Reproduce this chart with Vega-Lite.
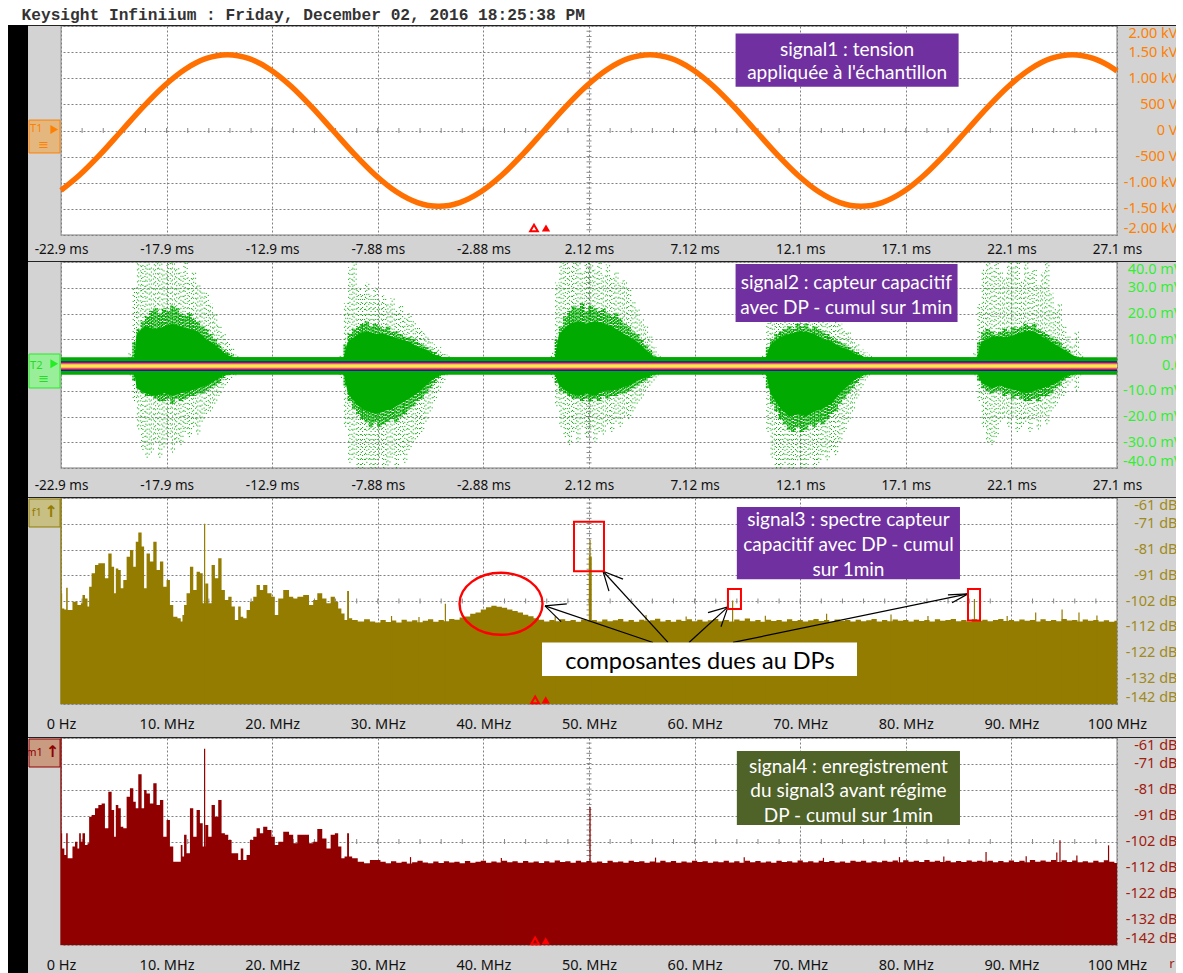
{"$schema":"https://vega.github.io/schema/vega-lite/v6.json","padding":{"left":-1,"top":-1,"right":0,"bottom":0},"background":"#d3d3d3","spacing":-2,
"config":{"view":{"fill":"#ffffff","stroke":"#a8a8a8","strokeWidth":1.5},"axis":{"grid":true,"gridColor":"#808080","gridDash":[2,2],"gridWidth":1,"domain":false,"ticks":false,"title":null,"labelFont":"Noto Sans","labelFontSize":13,"labelOverlap":false},"text":{"font":"Lato"}},
"datasets":{
"msT":[{"t":-21.88},{"t":-20.88},{"t":-19.88},{"t":-18.88},{"t":-17.88},{"t":-16.88},{"t":-15.88},{"t":-14.88},{"t":-13.88},{"t":-12.88},{"t":-11.88},{"t":-10.88},{"t":-9.88},{"t":-8.88},{"t":-7.88},{"t":-6.88},{"t":-5.88},{"t":-4.88},{"t":-3.88},{"t":-2.88},{"t":-1.88},{"t":-0.88},{"t":0.12},{"t":1.12},{"t":2.12},{"t":3.12},{"t":4.12},{"t":5.12},{"t":6.12},{"t":7.12},{"t":8.12},{"t":9.12},{"t":10.12},{"t":11.12},{"t":12.12},{"t":13.12},{"t":14.12},{"t":15.12},{"t":16.12},{"t":17.12},{"t":18.12},{"t":19.12},{"t":20.12},{"t":21.12},{"t":22.12},{"t":23.12},{"t":24.12},{"t":25.12},{"t":26.12}],
"mhzT":[{"t":2},{"t":4},{"t":6},{"t":8},{"t":10},{"t":12},{"t":14},{"t":16},{"t":18},{"t":20},{"t":22},{"t":24},{"t":26},{"t":28},{"t":30},{"t":32},{"t":34},{"t":36},{"t":38},{"t":40},{"t":42},{"t":44},{"t":46},{"t":48},{"t":50},{"t":52},{"t":54},{"t":56},{"t":58},{"t":60},{"t":62},{"t":64},{"t":66},{"t":68},{"t":70},{"t":72},{"t":74},{"t":76},{"t":78},{"t":80},{"t":82},{"t":84},{"t":86},{"t":88},{"t":90},{"t":92},{"t":94},{"t":96},{"t":98}],
"kvV":[{"v":1.9},{"v":1.8},{"v":1.7},{"v":1.6},{"v":1.5},{"v":1.4},{"v":1.3},{"v":1.2},{"v":1.1},{"v":1.0},{"v":0.9},{"v":0.8},{"v":0.7},{"v":0.6},{"v":0.5},{"v":0.4},{"v":0.3},{"v":0.2},{"v":0.1},{"v":-0.1},{"v":-0.2},{"v":-0.3},{"v":-0.4},{"v":-0.5},{"v":-0.6},{"v":-0.7},{"v":-0.8},{"v":-0.9},{"v":-1.0},{"v":-1.1},{"v":-1.2},{"v":-1.3},{"v":-1.4},{"v":-1.5},{"v":-1.6},{"v":-1.7},{"v":-1.8},{"v":-1.9}],
"mvV":[{"v":38},{"v":36},{"v":34},{"v":32},{"v":30},{"v":28},{"v":26},{"v":24},{"v":22},{"v":20},{"v":18},{"v":16},{"v":14},{"v":12},{"v":10},{"v":-10},{"v":-12},{"v":-14},{"v":-16},{"v":-18},{"v":-20},{"v":-22},{"v":-24},{"v":-26},{"v":-28},{"v":-30},{"v":-32},{"v":-34},{"v":-36},{"v":-38}],
"dbV":[{"v":-63},{"v":-65},{"v":-67},{"v":-69},{"v":-71},{"v":-73},{"v":-75},{"v":-77},{"v":-79},{"v":-81},{"v":-83},{"v":-85},{"v":-87},{"v":-89},{"v":-91},{"v":-93},{"v":-95},{"v":-97},{"v":-99},{"v":-101},{"v":-103},{"v":-105},{"v":-107}],
"wave":[{"t":-22.88,"v":-1.146},{"t":-22,"v":-0.852},{"t":-21,"v":-0.448},{"t":-20,"v":0},{"t":-19,"v":0.448},{"t":-18,"v":0.852},{"t":-17,"v":1.173},{"t":-16,"v":1.379},{"t":-15,"v":1.45},{"t":-14,"v":1.379},{"t":-13,"v":1.173},{"t":-12,"v":0.852},{"t":-11,"v":0.448},{"t":-10,"v":0},{"t":-9,"v":-0.448},{"t":-8,"v":-0.852},{"t":-7,"v":-1.173},{"t":-6,"v":-1.379},{"t":-5,"v":-1.45},{"t":-4,"v":-1.379},{"t":-3,"v":-1.173},{"t":-2,"v":-0.852},{"t":-1,"v":-0.448},{"t":0,"v":0},{"t":1,"v":0.448},{"t":2,"v":0.852},{"t":3,"v":1.173},{"t":4,"v":1.379},{"t":5,"v":1.45},{"t":6,"v":1.379},{"t":7,"v":1.173},{"t":8,"v":0.852},{"t":9,"v":0.448},{"t":10,"v":0},{"t":11,"v":-0.448},{"t":12,"v":-0.852},{"t":13,"v":-1.173},{"t":14,"v":-1.379},{"t":15,"v":-1.45},{"t":16,"v":-1.379},{"t":17,"v":-1.173},{"t":18,"v":-0.852},{"t":19,"v":-0.448},{"t":20,"v":0},{"t":21,"v":0.448},{"t":22,"v":0.852},{"t":23,"v":1.173},{"t":24,"v":1.379},{"t":25,"v":1.45},{"t":26,"v":1.379},{"t":27,"v":1.173},{"t":27.12,"v":1.14}],
"core":[{"t":-19.4,"u":3,"d":-3},{"t":-19.3,"u":12,"d":-9},{"t":-18.9,"u":15,"d":-11},{"t":-18.4,"u":14,"d":-12},{"t":-18,"u":15,"d":-11},{"t":-17.6,"u":16,"d":-12},{"t":-17.2,"u":15,"d":-11},{"t":-16.8,"u":14,"d":-10},{"t":-16.4,"u":13,"d":-9},{"t":-16,"u":10,"d":-8},{"t":-15.6,"u":8,"d":-6},{"t":-15.2,"u":5,"d":-4},{"t":-14.8,"u":3,"d":-3},
{"t":-9.5,"u":3,"d":-3},{"t":-9.3,"u":9,"d":-11},{"t":-8.8,"u":12,"d":-16},{"t":-8.4,"u":13,"d":-18},{"t":-8,"u":12,"d":-19},{"t":-7.6,"u":12,"d":-18},{"t":-7.2,"u":11,"d":-17},{"t":-6.8,"u":10,"d":-15},{"t":-6.4,"u":9,"d":-13},{"t":-6,"u":7,"d":-11},{"t":-5.6,"u":6,"d":-8},{"t":-5.2,"u":4,"d":-5},{"t":-4.8,"u":3,"d":-3},
{"t":0.5,"u":3,"d":-3},{"t":0.7,"u":12,"d":-8},{"t":1.2,"u":16,"d":-11},{"t":1.6,"u":17,"d":-12},{"t":2,"u":16,"d":-11},{"t":2.4,"u":17,"d":-12},{"t":2.8,"u":16,"d":-10},{"t":3.2,"u":15,"d":-10},{"t":3.6,"u":13,"d":-9},{"t":4,"u":11,"d":-8},{"t":4.4,"u":9,"d":-6},{"t":4.8,"u":6,"d":-5},{"t":5.2,"u":3,"d":-3},
{"t":10.5,"u":3,"d":-3},{"t":10.7,"u":8,"d":-11},{"t":11.2,"u":11,"d":-17},{"t":11.6,"u":12,"d":-20},{"t":12,"u":13,"d":-19},{"t":12.4,"u":13,"d":-20},{"t":12.8,"u":12,"d":-18},{"t":13.2,"u":10,"d":-17},{"t":13.6,"u":9,"d":-15},{"t":14,"u":7,"d":-11},{"t":14.4,"u":6,"d":-8},{"t":14.8,"u":4,"d":-5},{"t":15.2,"u":3,"d":-3},
{"t":20.5,"u":3,"d":-3},{"t":20.7,"u":9,"d":-7},{"t":21.2,"u":11,"d":-9},{"t":21.6,"u":11,"d":-8},{"t":22,"u":11,"d":-9},{"t":22.4,"u":12,"d":-10},{"t":22.8,"u":13,"d":-11},{"t":23.2,"u":13,"d":-10},{"t":23.6,"u":11,"d":-9},{"t":24,"u":9,"d":-8},{"t":24.4,"u":7,"d":-6},{"t":24.8,"u":5,"d":-4},{"t":25.2,"u":3,"d":-3}],
"bursts":[
{"t":-19.6,"up":3,"dn":-3,"hi":5,"lo":-4},{"t":-19.4,"up":9,"dn":-6,"hi":30,"lo":-14},{"t":-19.2,"up":14,"dn":-9,"hi":40,"lo":-25},{"t":-19,"up":17,"dn":-11,"hi":40,"lo":-33},{"t":-18.8,"up":19,"dn":-12,"hi":40,"lo":-36},{"t":-18.6,"up":21,"dn":-12,"hi":38,"lo":-34},{"t":-18.4,"up":22,"dn":-13,"hi":40,"lo":-30},{"t":-18.2,"up":20,"dn":-14,"hi":40,"lo":-36},{"t":-18,"up":22,"dn":-14,"hi":37,"lo":-32},{"t":-17.8,"up":21,"dn":-13,"hi":40,"lo":-28},{"t":-17.6,"up":23,"dn":-15,"hi":40,"lo":-34},{"t":-17.4,"up":22,"dn":-13,"hi":38,"lo":-30},{"t":-17.2,"up":20,"dn":-14,"hi":36,"lo":-31},{"t":-17,"up":19,"dn":-13,"hi":40,"lo":-26},{"t":-16.8,"up":20,"dn":-12,"hi":34,"lo":-28},{"t":-16.6,"up":18,"dn":-12,"hi":36,"lo":-24},{"t":-16.4,"up":17,"dn":-11,"hi":31,"lo":-27},{"t":-16.2,"up":15,"dn":-11,"hi":29,"lo":-22},{"t":-16,"up":14,"dn":-10,"hi":28,"lo":-19},{"t":-15.8,"up":12,"dn":-9,"hi":24,"lo":-18},{"t":-15.6,"up":10,"dn":-8,"hi":20,"lo":-15},{"t":-15.4,"up":8,"dn":-7,"hi":16,"lo":-12},{"t":-15.2,"up":6,"dn":-5,"hi":12,"lo":-9},{"t":-15,"up":5,"dn":-4,"hi":9,"lo":-7},{"t":-14.8,"up":4,"dn":-3,"hi":7,"lo":-5},{"t":-14.6,"up":3,"dn":-3,"hi":4,"lo":-4},
{"t":-9.6,"up":3,"dn":-3,"hi":4,"lo":-5},{"t":-9.4,"up":8,"dn":-8,"hi":24,"lo":-24},{"t":-9.2,"up":12,"dn":-14,"hi":38,"lo":-38},{"t":-9,"up":14,"dn":-17,"hi":40,"lo":-36},{"t":-8.8,"up":15,"dn":-19,"hi":30,"lo":-40},{"t":-8.6,"up":16,"dn":-21,"hi":28,"lo":-40},{"t":-8.4,"up":17,"dn":-22,"hi":32,"lo":-38},{"t":-8.2,"up":15,"dn":-24,"hi":27,"lo":-40},{"t":-8,"up":16,"dn":-22,"hi":30,"lo":-40},{"t":-7.8,"up":15,"dn":-24,"hi":25,"lo":-36},{"t":-7.6,"up":14,"dn":-23,"hi":27,"lo":-40},{"t":-7.4,"up":15,"dn":-22,"hi":24,"lo":-39},{"t":-7.2,"up":13,"dn":-21,"hi":26,"lo":-36},{"t":-7,"up":13,"dn":-22,"hi":21,"lo":-40},{"t":-6.8,"up":12,"dn":-20,"hi":23,"lo":-35},{"t":-6.6,"up":11,"dn":-19,"hi":19,"lo":-38},{"t":-6.4,"up":11,"dn":-17,"hi":20,"lo":-33},{"t":-6.2,"up":10,"dn":-16,"hi":17,"lo":-30},{"t":-6,"up":9,"dn":-14,"hi":15,"lo":-28},{"t":-5.8,"up":8,"dn":-13,"hi":14,"lo":-26},{"t":-5.6,"up":7,"dn":-11,"hi":12,"lo":-22},{"t":-5.4,"up":6,"dn":-9,"hi":10,"lo":-18},{"t":-5.2,"up":5,"dn":-7,"hi":8,"lo":-14},{"t":-5,"up":4,"dn":-5,"hi":7,"lo":-10},{"t":-4.8,"up":3,"dn":-4,"hi":5,"lo":-7},{"t":-4.6,"up":3,"dn":-3,"hi":4,"lo":-4},
{"t":0.4,"up":3,"dn":-3,"hi":5,"lo":-5},{"t":0.6,"up":10,"dn":-7,"hi":32,"lo":-16},{"t":0.8,"up":15,"dn":-10,"hi":40,"lo":-24},{"t":1,"up":19,"dn":-11,"hi":40,"lo":-28},{"t":1.2,"up":21,"dn":-12,"hi":38,"lo":-31},{"t":1.4,"up":23,"dn":-13,"hi":40,"lo":-26},{"t":1.6,"up":22,"dn":-13,"hi":40,"lo":-30},{"t":1.8,"up":24,"dn":-14,"hi":36,"lo":-24},{"t":2,"up":21,"dn":-13,"hi":40,"lo":-28},{"t":2.2,"up":23,"dn":-14,"hi":40,"lo":-25},{"t":2.4,"up":22,"dn":-13,"hi":37,"lo":-30},{"t":2.6,"up":21,"dn":-14,"hi":40,"lo":-26},{"t":2.8,"up":22,"dn":-12,"hi":35,"lo":-27},{"t":3,"up":20,"dn":-13,"hi":39,"lo":-23},{"t":3.2,"up":19,"dn":-12,"hi":34,"lo":-26},{"t":3.4,"up":20,"dn":-12,"hi":36,"lo":-22},{"t":3.6,"up":18,"dn":-11,"hi":32,"lo":-24},{"t":3.8,"up":16,"dn":-11,"hi":33,"lo":-20},{"t":4,"up":15,"dn":-10,"hi":30,"lo":-21},{"t":4.2,"up":13,"dn":-9,"hi":25,"lo":-18},{"t":4.4,"up":12,"dn":-8,"hi":22,"lo":-15},{"t":4.6,"up":10,"dn":-7,"hi":18,"lo":-13},{"t":4.8,"up":8,"dn":-6,"hi":15,"lo":-10},{"t":5,"up":6,"dn":-5,"hi":11,"lo":-8},{"t":5.2,"up":4,"dn":-4,"hi":7,"lo":-6},{"t":5.4,"up":3,"dn":-3,"hi":4,"lo":-4},
{"t":10.4,"up":3,"dn":-3,"hi":4,"lo":-5},{"t":10.6,"up":7,"dn":-9,"hi":18,"lo":-26},{"t":10.8,"up":10,"dn":-15,"hi":28,"lo":-36},{"t":11,"up":12,"dn":-18,"hi":26,"lo":-40},{"t":11.2,"up":13,"dn":-21,"hi":31,"lo":-40},{"t":11.4,"up":14,"dn":-23,"hi":25,"lo":-38},{"t":11.6,"up":15,"dn":-25,"hi":29,"lo":-40},{"t":11.8,"up":14,"dn":-26,"hi":26,"lo":-40},{"t":12,"up":16,"dn":-24,"hi":33,"lo":-37},{"t":12.2,"up":15,"dn":-26,"hi":28,"lo":-40},{"t":12.4,"up":16,"dn":-25,"hi":30,"lo":-40},{"t":12.6,"up":14,"dn":-23,"hi":25,"lo":-36},{"t":12.8,"up":15,"dn":-24,"hi":27,"lo":-40},{"t":13,"up":14,"dn":-22,"hi":24,"lo":-38},{"t":13.2,"up":13,"dn":-23,"hi":22,"lo":-35},{"t":13.4,"up":12,"dn":-21,"hi":23,"lo":-37},{"t":13.6,"up":11,"dn":-19,"hi":19,"lo":-33},{"t":13.8,"up":10,"dn":-18,"hi":20,"lo":-35},{"t":14,"up":9,"dn":-15,"hi":16,"lo":-30},{"t":14.2,"up":8,"dn":-13,"hi":14,"lo":-26},{"t":14.4,"up":7,"dn":-11,"hi":13,"lo":-22},{"t":14.6,"up":6,"dn":-9,"hi":10,"lo":-18},{"t":14.8,"up":5,"dn":-7,"hi":8,"lo":-13},{"t":15,"up":4,"dn":-5,"hi":6,"lo":-9},{"t":15.2,"up":3,"dn":-4,"hi":5,"lo":-6},{"t":15.4,"up":3,"dn":-3,"hi":4,"lo":-4},
{"t":20.4,"up":3,"dn":-3,"hi":5,"lo":-4},{"t":20.6,"up":9,"dn":-6,"hi":24,"lo":-14},{"t":20.8,"up":13,"dn":-9,"hi":37,"lo":-24},{"t":21,"up":14,"dn":-10,"hi":40,"lo":-30},{"t":21.2,"up":13,"dn":-11,"hi":38,"lo":-31},{"t":21.4,"up":12,"dn":-10,"hi":40,"lo":-28},{"t":21.6,"up":13,"dn":-10,"hi":36,"lo":-22},{"t":21.8,"up":14,"dn":-12,"hi":34,"lo":-20},{"t":22,"up":13,"dn":-11,"hi":40,"lo":-24},{"t":22.2,"up":15,"dn":-13,"hi":38,"lo":-20},{"t":22.4,"up":14,"dn":-12,"hi":40,"lo":-26},{"t":22.6,"up":15,"dn":-13,"hi":33,"lo":-24},{"t":22.8,"up":16,"dn":-14,"hi":40,"lo":-22},{"t":23,"up":15,"dn":-14,"hi":36,"lo":-26},{"t":23.2,"up":16,"dn":-13,"hi":38,"lo":-21},{"t":23.4,"up":14,"dn":-14,"hi":31,"lo":-25},{"t":23.6,"up":13,"dn":-12,"hi":36,"lo":-20},{"t":23.8,"up":12,"dn":-12,"hi":40,"lo":-23},{"t":24,"up":11,"dn":-11,"hi":28,"lo":-18},{"t":24.2,"up":10,"dn":-9,"hi":22,"lo":-16},{"t":24.4,"up":9,"dn":-8,"hi":24,"lo":-13},{"t":24.6,"up":7,"dn":-6,"hi":15,"lo":-12},{"t":24.8,"up":6,"dn":-5,"hi":11,"lo":-8},{"t":25,"up":4,"dn":-4,"hi":8,"lo":-6},{"t":25.2,"up":3.5,"dn":-3,"hi":13,"lo":-10},{"t":25.4,"up":3,"dn":-3,"hi":5,"lo":-4}],
"spec":[{"t":0,"a":-98.5,"b":-98.3},{"t":0.22,"a":-104.4,"b":-104.2},{"t":0.41,"a":-104.8,"b":-106.8},{"t":0.57,"a":-96.3,"b":-98.3},{"t":0.7,"a":-105,"b":-108.1},{"t":1,"a":-105,"b":-108.1},{"t":1.17,"a":-101.8,"b":-103.5},{"t":1.48,"a":-101.8,"b":-101.6},{"t":1.64,"a":-103.1,"b":-104.2},{"t":1.8,"a":-103.1,"b":-98.3},{"t":1.96,"a":-102.4,"b":-101.6},{"t":2.11,"a":-99.1,"b":-98.3},{"t":2.43,"a":-100.5,"b":-102.9},{"t":2.59,"a":-103.7,"b":-102.2},{"t":2.74,"a":-95.9,"b":-91.8},{"t":3.06,"a":-90.6,"b":-91.1},{"t":3.38,"a":-87.3,"b":-88.5},{"t":3.69,"a":-86.7,"b":-87.2},{"t":4,"a":-86.7,"b":-86.6},{"t":4.32,"a":-92.6,"b":-96.3},{"t":4.64,"a":-82.8,"b":-82},{"t":4.95,"a":-88,"b":-89.2},{"t":5.11,"a":-98.5,"b":-99.6},{"t":5.27,"a":-88.7,"b":-87.2},{"t":5.58,"a":-89.3,"b":-88.5},{"t":5.74,"a":-96.5,"b":-95.7},{"t":6.06,"a":-93.2,"b":-96.3},{"t":6.37,"a":-84.1,"b":-84},{"t":6.69,"a":-81.4,"b":-80.7},{"t":7,"a":-88,"b":-85.9},{"t":7.16,"a":-78.2,"b":-88.5},{"t":7.48,"a":-74.6,"b":-75.2},{"t":7.79,"a":-80.1,"b":-88.5},{"t":7.95,"a":-96.5,"b":-81.3},{"t":8.26,"a":-82.8,"b":-82.7},{"t":8.58,"a":-86,"b":-86.6},{"t":8.9,"a":-78.2,"b":-78.7},{"t":9.21,"a":-89.3,"b":-87.2},{"t":9.53,"a":-86,"b":-85.3},{"t":9.84,"a":-95.9,"b":-99.6},{"t":10.16,"a":-93.2,"b":-93.1},{"t":10.47,"a":-103.1,"b":-103.5},{"t":10.79,"a":-107.7,"b":-109.4},{"t":11.26,"a":-108.3,"b":-109.4},{"t":11.42,"a":-109.6,"b":-102.9},{"t":11.58,"a":-107,"b":-107.4},{"t":11.73,"a":-103.1,"b":-98.9},{"t":12.05,"a":-98.5,"b":-106.1},{"t":12.37,"a":-88,"b":-88.5},{"t":12.68,"a":-97.2,"b":-99.6},{"t":13,"a":-90,"b":-89.2},{"t":13.31,"a":-90.6,"b":-94.4},{"t":13.53,"a":-102.4,"b":-103.5},{"t":13.79,"a":-94.6,"b":-95},{"t":14.1,"a":-102.4,"b":-99.6},{"t":14.42,"a":-87.3,"b":-87.2},{"t":14.73,"a":-92.6,"b":-91.8},{"t":15.05,"a":-84.7,"b":-85.3},{"t":15.36,"a":-97.2,"b":-98.3},{"t":15.68,"a":-101.1,"b":-98.9},{"t":16,"a":-99.8,"b":-100.9},{"t":16.31,"a":-103.7,"b":-106.1},{"t":16.62,"a":-109,"b":-106.1},{"t":16.94,"a":-103.7,"b":-108.7},{"t":17.1,"a":-107.7,"b":-104.2},{"t":17.42,"a":-108.3,"b":-108.7},{"t":17.73,"a":-105,"b":-106.8},{"t":18.05,"a":-101.8,"b":-100.9},{"t":18.36,"a":-99.8,"b":-99.6},{"t":18.68,"a":-95.2,"b":-96.3},{"t":18.99,"a":-97.2,"b":-98.3},{"t":19.3,"a":-95.2,"b":-95.7},{"t":19.78,"a":-98.5,"b":-97},{"t":20.09,"a":-99.8,"b":-99.6},{"t":20.41,"a":-107,"b":-102.9},{"t":20.73,"a":-100.5,"b":-101.6},{"t":21.36,"a":-97.2,"b":-97.7},{"t":21.83,"a":-99.8,"b":-98.9},{"t":22.15,"a":-100.5,"b":-102.2},{"t":22.62,"a":-99.8,"b":-98.9},{"t":23.25,"a":-99.1,"b":-98.9},{"t":23.72,"a":-103.1,"b":-102.2},{"t":24.04,"a":-101.1,"b":-101.6},{"t":24.5,"a":-98.5,"b":-96.6},{"t":24.98,"a":-100.5,"b":-100.3},{"t":25.3,"a":-102.4,"b":-104.2},{"t":25.77,"a":-99.8,"b":-98.9},{"t":26.1,"a":-101.8,"b":-98.3},{"t":26.4,"a":-104.4,"b":-103.5},{"t":26.7,"a":-106.4,"b":-108.1},{"t":27,"a":-109,"b":-107.4},{"t":27.19,"a":-97.6,"b":-98.3},{"t":27.35,"a":-108.3,"b":-107.4},{"t":27.8,"a":-109,"b":-108.1},{"t":28.4,"a":-109.6,"b":-109.4},{"t":29,"a":-108.7,"b":-110},{"t":29.5,"a":-109.6,"b":-108.7},{"t":30,"a":-110,"b":-108.7},{"t":30.5,"a":-109,"b":-109.4},{"t":31,"a":-109.8,"b":-110},{"t":31.5,"a":-109.2,"b":-109.2},{"t":32,"a":-110,"b":-109.8},{"t":32.5,"a":-108.9,"b":-109.4},{"t":33,"a":-109.6,"b":-110.1},{"t":33.5,"a":-109.1,"b":-109.6},{"t":34,"a":-109.9,"b":-109},{"t":34.5,"a":-109.3,"b":-109.7},{"t":35,"a":-108.7,"b":-110},{"t":35.5,"a":-109.7,"b":-109.3},{"t":36,"a":-109,"b":-109.9},{"t":36.5,"a":-109.5,"b":-109.2},{"t":37,"a":-108.6,"b":-109.7},{"t":37.5,"a":-108.9,"b":-109.4},{"t":38,"a":-108,"b":-110},{"t":38.5,"a":-107.6,"b":-109.1},{"t":39,"a":-106.5,"b":-109.8},{"t":39.5,"a":-106,"b":-109.4},{"t":40,"a":-104.8,"b":-109},{"t":40.5,"a":-104,"b":-109.8},{"t":41,"a":-103.4,"b":-109.3},{"t":41.5,"a":-103.8,"b":-109.7},{"t":42,"a":-104.2,"b":-109},{"t":42.5,"a":-104.8,"b":-109.6},{"t":43,"a":-105.4,"b":-109.2},{"t":43.5,"a":-106,"b":-109.8},{"t":44,"a":-106.9,"b":-109.1},{"t":44.5,"a":-107.5,"b":-109.7},{"t":45,"a":-108.3,"b":-109.3},{"t":45.5,"a":-108.9,"b":-109.9},{"t":46,"a":-109.6,"b":-109.2},{"t":46.5,"a":-109,"b":-109.7},{"t":47,"a":-109.5,"b":-108.9},{"t":47.5,"a":-108.7,"b":-109.5},{"t":48,"a":-109.4,"b":-109.2},{"t":48.5,"a":-109,"b":-109.8},{"t":49,"a":-109.7,"b":-109},{"t":49.5,"a":-108.8,"b":-109.6},{"t":50,"a":-109.3,"b":-109.1},{"t":50.5,"a":-109,"b":-109.7},{"t":51,"a":-109.6,"b":-109.3},{"t":51.5,"a":-108.8,"b":-109.9},{"t":52,"a":-109.5,"b":-109},{"t":52.5,"a":-109.1,"b":-109.6},{"t":53,"a":-108.6,"b":-109.3},{"t":53.5,"a":-109.6,"b":-109.8},{"t":54,"a":-109,"b":-109},{"t":54.5,"a":-109.7,"b":-109.5},{"t":55,"a":-108.9,"b":-109.2},{"t":55.5,"a":-109.4,"b":-109.8},{"t":56,"a":-109.1,"b":-109.3},{"t":56.5,"a":-108.5,"b":-109.7},{"t":57,"a":-109.6,"b":-109},{"t":57.5,"a":-109,"b":-109.6},{"t":58,"a":-109.7,"b":-109.1},{"t":58.5,"a":-108.9,"b":-109.8},{"t":59,"a":-109.4,"b":-109.3},{"t":59.5,"a":-108.7,"b":-109.7},{"t":60,"a":-109.5,"b":-109},{"t":60.5,"a":-108.9,"b":-109.5},{"t":61,"a":-109.6,"b":-109.2},{"t":61.5,"a":-109.1,"b":-109.8},{"t":62,"a":-108.6,"b":-109.3},{"t":62.5,"a":-109.5,"b":-109.6},{"t":63,"a":-109,"b":-109},{"t":63.5,"a":-109.6,"b":-109.7},{"t":64,"a":-108.8,"b":-109.2},{"t":64.5,"a":-109.3,"b":-109.8},{"t":65,"a":-108.4,"b":-109},{"t":65.5,"a":-109.5,"b":-109.6},{"t":66,"a":-109,"b":-109.1},{"t":66.5,"a":-109.7,"b":-109.7},{"t":67,"a":-108.9,"b":-109.3},{"t":67.5,"a":-109.4,"b":-109.8},{"t":68,"a":-109,"b":-109},{"t":68.5,"a":-109.6,"b":-109.5},{"t":69,"a":-108.7,"b":-109.2},{"t":69.5,"a":-109.4,"b":-109.7},{"t":70,"a":-109,"b":-108.9},{"t":70.5,"a":-109.6,"b":-109.6},{"t":71,"a":-109.1,"b":-109.2},{"t":71.5,"a":-108.6,"b":-109.7},{"t":72,"a":-109.4,"b":-109},{"t":72.5,"a":-109,"b":-109.5},{"t":73,"a":-109.7,"b":-109.1},{"t":73.5,"a":-108.8,"b":-109.7},{"t":74,"a":-109.3,"b":-109.3},{"t":74.5,"a":-109,"b":-109.8},{"t":75,"a":-109.6,"b":-109},{"t":75.5,"a":-108.9,"b":-109.4},{"t":76,"a":-109.5,"b":-109},{"t":76.5,"a":-109.1,"b":-109.7},{"t":77,"a":-108.6,"b":-109.2},{"t":77.5,"a":-109.6,"b":-109.6},{"t":78,"a":-109,"b":-109},{"t":78.5,"a":-109.5,"b":-109.4},{"t":79,"a":-108.8,"b":-108.9},{"t":79.5,"a":-109.3,"b":-109.6},{"t":80,"a":-109,"b":-108.8},{"t":80.5,"a":-109.6,"b":-109.4},{"t":81,"a":-108.9,"b":-109},{"t":81.5,"a":-109.4,"b":-109.5},{"t":82,"a":-109,"b":-108.7},{"t":82.5,"a":-109.6,"b":-109.4},{"t":83,"a":-108.7,"b":-109},{"t":83.5,"a":-109.3,"b":-109.5},{"t":84,"a":-109,"b":-109},{"t":84.5,"a":-108.6,"b":-109.6},{"t":85,"a":-109.5,"b":-109.1},{"t":85.5,"a":-109,"b":-109.5},{"t":86,"a":-109.6,"b":-108.9},{"t":86.5,"a":-108.7,"b":-109.4},{"t":87,"a":-109.3,"b":-109},{"t":87.5,"a":-108.9,"b":-109.4},{"t":88,"a":-109.5,"b":-109},{"t":88.5,"a":-109,"b":-109.6},{"t":89,"a":-108.6,"b":-109.1},{"t":89.5,"a":-109.4,"b":-109.6},{"t":90,"a":-109,"b":-108.9},{"t":90.5,"a":-109.5,"b":-109.5},{"t":91,"a":-108.8,"b":-109},{"t":91.5,"a":-109.3,"b":-109.6},{"t":92,"a":-109,"b":-108.7},{"t":92.5,"a":-109.6,"b":-109.4},{"t":93,"a":-108.7,"b":-108.9},{"t":93.5,"a":-109.4,"b":-109.4},{"t":94,"a":-109,"b":-108.7},{"t":94.5,"a":-109.5,"b":-109.5},{"t":95,"a":-108.6,"b":-108.8},{"t":95.5,"a":-109.2,"b":-109.5},{"t":96,"a":-109,"b":-108.9},{"t":96.5,"a":-109.6,"b":-109.6},{"t":97,"a":-108.8,"b":-109.2},{"t":97.5,"a":-109.3,"b":-109.7},{"t":98,"a":-109,"b":-109},{"t":98.5,"a":-109.6,"b":-109.6},{"t":99,"a":-109.1,"b":-108.8},{"t":99.5,"a":-109.7,"b":-109.4},{"t":100,"a":-109.3,"b":-109.9}],
"spk3":[{"t":0,"v":-61},{"t":13.6,"v":-71.1},{"t":31.3,"v":-107.4},{"t":33.9,"v":-107.8},{"t":36.4,"v":-102.6},{"t":46.8,"v":-107.5},{"t":50.1,"v":-77.4},{"t":55.4,"v":-107},{"t":59.2,"v":-107.6},{"t":63.6,"v":-101.3},{"t":66.7,"v":-107.3},{"t":72.5,"v":-106.5},{"t":78.6,"v":-106.8},{"t":82.1,"v":-107.4},{"t":86.5,"v":-100.7},{"t":89.6,"v":-107.4},{"t":92.3,"v":-106},{"t":94.8,"v":-104.8},{"t":96.4,"v":-106},{"t":98.1,"v":-107.2}],
"spk4":[{"t":0,"v":-61},{"t":13.6,"v":-65.2},{"t":33.1,"v":-107.6},{"t":41.7,"v":-108},{"t":50.1,"v":-88},{"t":56.3,"v":-107.8},{"t":64.7,"v":-107.7},{"t":72.2,"v":-107.9},{"t":79.4,"v":-107.6},{"t":83.6,"v":-107.4},{"t":87.6,"v":-105.6},{"t":91.4,"v":-107.3},{"t":94.6,"v":-101},{"t":94.3,"v":-105.8},{"t":96.2,"v":-107},{"t":99.2,"v":-103}],
"txt1":[{"t":14.34,"v":1.548,"label":"signal1 : tension"},{"t":14.34,"v":1.106,"label":"appliquée à l'échantillon"}],
"txt2":[{"t":14.3,"v":31.8,"label":"signal2 : capteur capacitif"},{"t":14.3,"v":22.1,"label":"avec DP - cumul sur 1min"}],
"txt3":[{"t":74.57,"v":-69.6,"label":"signal3 : spectre capteur"},{"t":74.57,"v":-79.5,"label":"capacitif avec DP - cumul"},{"t":74.57,"v":-89.2,"label":"sur 1min"}],
"txt4":[{"t":74.57,"v":-72.3,"label":"signal4 : enregistrement"},{"t":74.57,"v":-81.7,"label":"du signal3 avant régime"},{"t":74.57,"v":-91.5,"label":"DP - cumul sur 1min"}],
"redbox":[{"t":48.58,"t2":51.42,"v":-70.3,"v2":-89.8},{"t":63.16,"t2":64.39,"v":-96.8,"v2":-104.6},{"t":85.89,"t2":87.03,"v":-96.8,"v2":-109.2}],
"arrows":[{"t":56.06,"t2":45.83,"v":-117.8,"v2":-103.4},{"t":45.83,"t2":47.9,"v":-103.4,"v2":-102.6},{"t":45.83,"t2":47.35,"v":-103.4,"v2":-109.6},{"t":57.48,"t2":51.33,"v":-117.8,"v2":-89.8},{"t":51.33,"t2":53.22,"v":-89.8,"v2":-92.9},{"t":51.33,"t2":51.89,"v":-89.8,"v2":-97.6},{"t":59.47,"t2":63.16,"v":-117.8,"v2":-103.8},{"t":63.16,"t2":61.27,"v":-103.8,"v2":-106.1},{"t":63.16,"t2":62.5,"v":-103.8,"v2":-111.6},{"t":63.64,"t2":85.89,"v":-117.8,"v2":-98.7},{"t":85.89,"t2":83.99,"v":-98.7,"v2":-99.1},{"t":85.89,"t2":84.38,"v":-98.7,"v2":-102.2}]
},
"vconcat":[
{"width":1056,"height":209,"data":{"values":[{"k":1}]},
"layer":[
{"data":{"name":"msT"},"mark":{"type":"tick","orient":"vertical","size":5,"color":"#888888","thickness":1,"opacity":1},"encoding":{"x":{"field":"t","type":"quantitative","scale":{"domain":[-22.88,27.12],"nice":false,"zero":false},"axis":{"values":[-22.88,-17.88,-12.88,-7.88,-2.88,2.12,7.12,12.12,17.12,22.12,27.12],"labelFlush":false,"labelOverlap":false,"labelPadding":7,"labelFontSize":13.5,"labelExpr":"(datum.value<0?'-':'')+format(abs(datum.value),'.3r')+' ms'","labelColor":"#111111"}},"y":{"datum":0,"type":"quantitative","scale":{"domain":[-2,2],"nice":false,"zero":false},"axis":{"orient":"right","labelAlign":"right","labelFlush":true,"labelOverlap":false,"labelFontSize":14.5,"tickCount":9,"values":[-2,-1.5,-1,-0.5,0,0.5,1,1.5,2],"labelColor":"#ff8000","labelPadding":60,"labelExpr":"datum.value==0?'0 V':(datum.value<0?'-':'')+(abs(datum.value)<1?format(abs(datum.value)*1000,'d')+' V':format(abs(datum.value),'.2f')+' kV')"}}}},
{"data":{"name":"kvV"},"mark":{"type":"tick","orient":"horizontal","size":5,"color":"#888888","thickness":1,"opacity":1},"encoding":{"x":{"datum":2.12},"y":{"field":"v","type":"quantitative"}}},
{"data":{"name":"wave"},"mark":{"type":"line","color":"#ff7000","strokeWidth":5.5,"interpolate":"monotone"},"encoding":{"x":{"field":"t","type":"quantitative"},"y":{"field":"v","type":"quantitative"}}},
{"mark":{"type":"rect","color":"#7030a0"},"encoding":{"x":{"datum":9.06},"x2":{"datum":19.62},"y":{"datum":1.856},"y2":{"datum":0.837}}},
{"data":{"name":"txt1"},"mark":{"type":"text","color":"#ffffff","fontSize":19,"align":"center"},"encoding":{"x":{"field":"t","type":"quantitative"},"y":{"field":"v","type":"quantitative"},"text":{"field":"label"}}},
{"mark":{"type":"point","shape":"triangle-up","filled":false,"color":"#ff0000","size":60,"opacity":1},"encoding":{"x":{"datum":-0.484},"y":{"datum":-1.866}}},
{"mark":{"type":"point","shape":"triangle-up","filled":true,"color":"#ff0000","size":70,"opacity":1},"encoding":{"x":{"datum":0.084},"y":{"datum":-1.866}}},
{"mark":{"type":"rect","color":"#e4b77e","stroke":"#ff8000"},"encoding":{"x":{"datum":-24.395},"x2":{"datum":-22.927},"y":{"datum":0.2},"y2":{"datum":-0.43}}},
{"mark":{"type":"text","text":"T1","color":"#ff8000","fontSize":11,"font":"Noto Sans"},"encoding":{"x":{"datum":-24.05},"y":{"datum":0.03}}},
{"mark":{"type":"point","shape":"triangle-right","filled":true,"color":"#ff8000","size":80,"opacity":1},"encoding":{"x":{"datum":-23.2},"y":{"datum":0.02}}},
{"mark":{"type":"text","text":"≡","color":"#ff8000","fontSize":13,"font":"DejaVu Sans"},"encoding":{"x":{"datum":-23.7},"y":{"datum":-0.27}}},
{"mark":{"type":"rect","color":"#ffffff"},"encoding":{"x":{"datum":-25.768},"x2":{"datum":30.245},"y":{"datum":2.498},"y2":{"datum":2.019}}},
{"mark":{"type":"rect","color":"#ffffff"},"encoding":{"x":{"datum":-25.768},"x2":{"datum":-25.389},"y":{"datum":2.019},"y2":{"datum":-2.498}}},
{"mark":{"type":"rect","color":"#000000"},"encoding":{"x":{"datum":-25.389},"x2":{"datum":-24.442},"y":{"datum":2.019},"y2":{"datum":-2.498}}},
{"mark":{"type":"rect","color":"#ffffff"},"encoding":{"x":{"datum":29.914},"x2":{"datum":30.245},"y":{"datum":2.019},"y2":{"datum":-2.498}}},
{"mark":{"type":"rect","color":"#222222"},"encoding":{"x":{"datum":-24.442},"x2":{"datum":29.914},"y":{"datum":2.019},"y2":{"datum":2.0}}},
{"mark":{"type":"text","text":"Keysight Infiniium : Friday, December 02, 2016 18:25:38 PM","align":"left","font":"Liberation Mono","fontSize":16.2,"fontWeight":"bold","color":"#333333"},"encoding":{"x":{"datum":-24.75},"y":{"datum":2.21}}}
]},
{"width":1056,"height":206,"data":{"values":[{"k":1}]},
"layer":[
{"data":{"name":"msT"},"mark":{"type":"tick","orient":"vertical","size":5,"color":"#888888","thickness":1,"opacity":1},"encoding":{"x":{"field":"t","type":"quantitative","scale":{"domain":[-22.88,27.12],"nice":false,"zero":false},"axis":{"values":[-22.88,-17.88,-12.88,-7.88,-2.88,2.12,7.12,12.12,17.12,22.12,27.12],"labelFlush":false,"labelOverlap":false,"labelPadding":10,"labelFontSize":13.5,"labelExpr":"(datum.value<0?'-':'')+format(abs(datum.value),'.3r')+' ms'","labelColor":"#111111"}},"y":{"datum":0,"type":"quantitative","scale":{"domain":[-40,40],"nice":false,"zero":false},"axis":{"orient":"right","labelAlign":"right","labelFlush":true,"labelOverlap":false,"labelFontSize":14.5,"tickCount":9,"values":[-40,-30,-20,-10,0,10,20,30,40],"labelColor":"#33ee33","labelPadding":65,"labelExpr":"datum.value==0?'0.0\u00a0\u00a0\u00a0':(datum.value<0?'-':'')+format(abs(datum.value),'.1f')+' mV'"}}}},
{"data":{"name":"mvV"},"mark":{"type":"tick","orient":"horizontal","size":5,"color":"#888888","thickness":1,"opacity":1},"encoding":{"x":{"datum":2.12},"y":{"field":"v","type":"quantitative"}}},
{"data":{"name":"bursts"},"mark":{"type":"rule","color":"#00aa00","strokeWidth":1,"strokeDash":[1,3]},"encoding":{"x":{"field":"t","type":"quantitative"},"y":{"field":"lo","type":"quantitative"},"y2":{"field":"hi"}}},
{"data":{"name":"bursts"},"mark":{"type":"rule","color":"#00aa00","strokeWidth":1,"strokeDash":[1,4],"strokeDashOffset":2,"xOffset":2},"encoding":{"x":{"field":"t","type":"quantitative"},"y":{"field":"lo","type":"quantitative"},"y2":{"field":"hi"}}},
{"data":{"name":"bursts"},"mark":{"type":"rule","color":"#00aa00","strokeWidth":1,"strokeDash":[1,5],"strokeDashOffset":3,"xOffset":-1.3},"encoding":{"x":{"field":"t","type":"quantitative"},"y":{"field":"lo","type":"quantitative"},"y2":{"field":"hi"}}},
{"data":{"name":"bursts"},"mark":{"type":"rule","color":"#00aa00","strokeWidth":1.5,"strokeDash":[3,1]},"encoding":{"x":{"field":"t","type":"quantitative"},"y":{"field":"dn","type":"quantitative"},"y2":{"field":"up"}}},
{"data":{"name":"bursts"},"mark":{"type":"rule","color":"#00aa00","strokeWidth":1.5,"strokeDash":[2,1],"strokeDashOffset":1,"xOffset":1.5},"encoding":{"x":{"field":"t","type":"quantitative"},"y":{"field":"dn","type":"quantitative"},"y2":{"field":"up"}}},
{"data":{"name":"bursts"},"mark":{"type":"rule","color":"#00aa00","strokeWidth":1.5,"strokeDash":[2,1],"xOffset":-1.5},"encoding":{"x":{"field":"t","type":"quantitative"},"y":{"field":"dn","type":"quantitative"},"y2":{"field":"up"}}},
{"data":{"name":"core"},"mark":{"type":"area","color":"#00aa00","interpolate":"linear"},"encoding":{"x":{"field":"t","type":"quantitative"},"y":{"field":"u","type":"quantitative"},"y2":{"field":"d"}}},
{"mark":{"type":"rect","color":"#00aa00"},"encoding":{"x":{"datum":-22.88},"x2":{"datum":27.12},"y":{"datum":3},"y2":{"datum":-3.8}}},
{"mark":{"type":"rect","color":"#1a1a9a"},"encoding":{"x":{"datum":-22.88},"x2":{"datum":27.12},"y":{"datum":1.5},"y2":{"datum":-2.3}}},
{"mark":{"type":"rect","color":"#d0208a"},"encoding":{"x":{"datum":-22.88},"x2":{"datum":27.12},"y":{"datum":1},"y2":{"datum":-1.8}}},
{"mark":{"type":"rect","color":"#ff9020"},"encoding":{"x":{"datum":-22.88},"x2":{"datum":27.12},"y":{"datum":0.55},"y2":{"datum":-1.35}}},
{"mark":{"type":"rect","color":"#ffe860"},"encoding":{"x":{"datum":-22.88},"x2":{"datum":27.12},"y":{"datum":0.2},"y2":{"datum":-1}}},
{"mark":{"type":"rect","color":"#7030a0"},"encoding":{"x":{"datum":9.06},"x2":{"datum":19.57},"y":{"datum":39.2},"y2":{"datum":16.7}}},
{"data":{"name":"txt2"},"mark":{"type":"text","color":"#ffffff","fontSize":19,"align":"center"},"encoding":{"x":{"field":"t","type":"quantitative"},"y":{"field":"v","type":"quantitative"},"text":{"field":"label"}}},
{"mark":{"type":"rect","color":"#99ee99","stroke":"#22ee22"},"encoding":{"x":{"datum":-24.395},"x2":{"datum":-22.927},"y":{"datum":4.27},"y2":{"datum":-8.93}}},
{"mark":{"type":"text","text":"T2","color":"#22dd22","fontSize":11,"font":"Noto Sans"},"encoding":{"x":{"datum":-24.05},"y":{"datum":-0.5}}},
{"mark":{"type":"point","shape":"triangle-right","filled":true,"color":"#22ee22","size":80,"opacity":1},"encoding":{"x":{"datum":-23.2},"y":{"datum":0.5}}},
{"mark":{"type":"text","text":"≡","color":"#22dd22","fontSize":13,"font":"DejaVu Sans"},"encoding":{"x":{"datum":-23.7},"y":{"datum":-5.4}}},
{"mark":{"type":"rect","color":"#ffffff"},"encoding":{"x":{"datum":-25.768},"x2":{"datum":-25.389},"y":{"datum":40.388},"y2":{"datum":-51.26}}},
{"mark":{"type":"rect","color":"#000000"},"encoding":{"x":{"datum":-25.389},"x2":{"datum":-24.442},"y":{"datum":40.388},"y2":{"datum":-51.26}}},
{"mark":{"type":"rect","color":"#ffffff"},"encoding":{"x":{"datum":29.914},"x2":{"datum":30.245},"y":{"datum":40.388},"y2":{"datum":-51.26}}},
{"mark":{"type":"rect","color":"#222222"},"encoding":{"x":{"datum":-24.442},"x2":{"datum":29.914},"y":{"datum":40.388},"y2":{"datum":40}}}
]},
{"width":1056,"height":206,"data":{"values":[{"k":1}]},
"layer":[
{"data":{"name":"mhzT"},"mark":{"type":"tick","orient":"vertical","size":5,"color":"#888888","thickness":1,"opacity":1},"encoding":{"x":{"field":"t","type":"quantitative","scale":{"domain":[0,100],"nice":false,"zero":false},"axis":{"values":[0,10,20,30,40,50,60,70,80,90,100],"labelFlush":false,"labelOverlap":false,"labelPadding":13,"labelFontSize":14.5,"labelExpr":"datum.value==0?'0 Hz':datum.value==100?'100 MHz':datum.value+'. MHz'","labelColor":"#111111"}},"y":{"datum":-101.5,"type":"quantitative","scale":{"domain":[-142,-61],"nice":false,"zero":false},"axis":{"orient":"right","labelAlign":"right","labelFlush":true,"labelOverlap":false,"labelFontSize":14.5,"tickCount":9,"values":[-142,-131.875,-121.75,-111.625,-101.5,-91.375,-81.25,-71.125,-61],"labelColor":"#a08a20","labelPadding":60,"labelExpr":"'-'+format(abs(datum.value),'.0f')+' dB'"}}}},
{"data":{"name":"dbV"},"mark":{"type":"tick","orient":"horizontal","size":5,"color":"#888888","thickness":1,"opacity":1},"encoding":{"x":{"datum":50},"y":{"field":"v","type":"quantitative"}}},
{"data":{"name":"spec"},"mark":{"type":"area","color":"#937c00","interpolate":"step"},"encoding":{"x":{"field":"t","type":"quantitative"},"y":{"field":"a","type":"quantitative"},"y2":{"datum":-142}}},
{"data":{"name":"spk3"},"mark":{"type":"rule","color":"#937c00","strokeWidth":1.2},"encoding":{"x":{"field":"t","type":"quantitative"},"y":{"field":"v","type":"quantitative"},"y2":{"datum":-142}}},
{"mark":{"type":"rect","color":"#937c00"},"encoding":{"x":{"datum":49.98},"x2":{"datum":50.26},"y":{"datum":-84},"y2":{"datum":-142}}},
{"mark":{"type":"rect","color":"#7030a0"},"encoding":{"x":{"datum":64},"x2":{"datum":85.13},"y":{"datum":-64.5},"y2":{"datum":-92.9}}},
{"data":{"name":"txt3"},"mark":{"type":"text","color":"#ffffff","fontSize":19,"align":"center"},"encoding":{"x":{"field":"t","type":"quantitative"},"y":{"field":"v","type":"quantitative"},"text":{"field":"label"}}},
{"data":{"name":"arrows"},"mark":{"type":"rule","color":"#000000","strokeWidth":1.2},"encoding":{"x":{"field":"t","type":"quantitative"},"x2":{"field":"t2"},"y":{"field":"v","type":"quantitative"},"y2":{"field":"v2"}}},
{"data":{"name":"redbox"},"mark":{"type":"rect","fill":null,"stroke":"#ff0000","strokeWidth":2},"encoding":{"x":{"field":"t","type":"quantitative"},"x2":{"field":"t2"},"y":{"field":"v","type":"quantitative"},"y2":{"field":"v2"}}},
{"mark":{"type":"point","shape":"M -1 0 A 1 0.747 0 1 0 1 0 A 1 0.747 0 1 0 -1 0 Z","size":6889,"filled":false,"stroke":"#ff0000","strokeWidth":2.4,"opacity":1},"encoding":{"x":{"datum":41.67},"y":{"datum":-102.6}}},
{"mark":{"type":"rect","color":"#ffffff"},"encoding":{"x":{"datum":45.55},"x2":{"datum":75.38},"y":{"datum":-117.8},"y2":{"datum":-131}}},
{"mark":{"type":"text","text":"composantes dues au DPs","color":"#000000","fontSize":23.5,"font":"Lato"},"encoding":{"x":{"datum":60.5},"y":{"datum":-125.6}}},
{"mark":{"type":"point","shape":"triangle-up","filled":false,"color":"#ff0000","size":60,"opacity":1},"encoding":{"x":{"datum":44.9},"y":{"datum":-140.4}}},
{"mark":{"type":"point","shape":"triangle-up","filled":true,"color":"#ff0000","size":70,"opacity":1},"encoding":{"x":{"datum":45.9},"y":{"datum":-140.4}}},
{"mark":{"type":"rect","color":"#c8bf85","stroke":"#937c00"},"encoding":{"x":{"datum":-3.03},"x2":{"datum":-0.09},"y":{"datum":-61.4},"y2":{"datum":-72.4}}},
{"mark":{"type":"text","text":"f1","color":"#937c00","fontSize":11,"font":"Noto Sans"},"encoding":{"x":{"datum":-2.3},"y":{"datum":-67}}},
{"mark":{"type":"text","text":"↑","color":"#937c00","fontSize":16,"fontWeight":"bold","font":"DejaVu Sans"},"encoding":{"x":{"datum":-0.95},"y":{"datum":-66.5}}},
{"mark":{"type":"rect","color":"#ffffff"},"encoding":{"x":{"datum":-5.777},"x2":{"datum":-5.019},"y":{"datum":-60.607},"y2":{"datum":-154.98}}},
{"mark":{"type":"rect","color":"#000000"},"encoding":{"x":{"datum":-5.019},"x2":{"datum":-3.125},"y":{"datum":-60.607},"y2":{"datum":-154.98}}},
{"mark":{"type":"rect","color":"#ffffff"},"encoding":{"x":{"datum":105.587},"x2":{"datum":106.25},"y":{"datum":-60.607},"y2":{"datum":-154.98}}},
{"mark":{"type":"rect","color":"#222222"},"encoding":{"x":{"datum":-3.125},"x2":{"datum":105.587},"y":{"datum":-60.607},"y2":{"datum":-61}}}
]},
{"width":1056,"height":207,"data":{"values":[{"k":1}]},
"layer":[
{"data":{"name":"mhzT"},"mark":{"type":"tick","orient":"vertical","size":5,"color":"#888888","thickness":1,"opacity":1},"encoding":{"x":{"field":"t","type":"quantitative","scale":{"domain":[0,100],"nice":false,"zero":false},"axis":{"values":[0,10,20,30,40,50,60,70,80,90,100],"labelFlush":false,"labelOverlap":false,"labelPadding":13,"labelFontSize":14.5,"labelExpr":"datum.value==0?'0 Hz':datum.value==100?'100 MHz':datum.value+'. MHz'","labelColor":"#111111"}},"y":{"datum":-101.5,"type":"quantitative","scale":{"domain":[-142,-61],"nice":false,"zero":false},"axis":{"orient":"right","labelAlign":"right","labelFlush":true,"labelOverlap":false,"labelFontSize":14.5,"tickCount":9,"values":[-142,-131.875,-121.75,-111.625,-101.5,-91.375,-81.25,-71.125,-61],"labelColor":"#a02010","labelPadding":60,"labelExpr":"'-'+format(abs(datum.value),'.0f')+' dB'"}}}},
{"data":{"name":"dbV"},"mark":{"type":"tick","orient":"horizontal","size":5,"color":"#888888","thickness":1,"opacity":1},"encoding":{"x":{"datum":50},"y":{"field":"v","type":"quantitative"}}},
{"data":{"name":"spec"},"mark":{"type":"area","color":"#900000","interpolate":"step"},"encoding":{"x":{"field":"t","type":"quantitative"},"y":{"field":"b","type":"quantitative"},"y2":{"datum":-142}}},
{"data":{"name":"spk4"},"mark":{"type":"rule","color":"#900000","strokeWidth":1.2},"encoding":{"x":{"field":"t","type":"quantitative"},"y":{"field":"v","type":"quantitative"},"y2":{"datum":-142}}},
{"mark":{"type":"rect","color":"#4f6228"},"encoding":{"x":{"datum":64},"x2":{"datum":85.13},"y":{"datum":-66.1},"y2":{"datum":-95}}},
{"data":{"name":"txt4"},"mark":{"type":"text","color":"#ffffff","fontSize":19,"align":"center"},"encoding":{"x":{"field":"t","type":"quantitative"},"y":{"field":"v","type":"quantitative"},"text":{"field":"label"}}},
{"mark":{"type":"point","shape":"triangle-up","filled":false,"color":"#ff0000","size":60,"opacity":1},"encoding":{"x":{"datum":44.9},"y":{"datum":-140.4}}},
{"mark":{"type":"point","shape":"triangle-up","filled":true,"color":"#ff0000","size":70,"opacity":1},"encoding":{"x":{"datum":45.9},"y":{"datum":-140.4}}},
{"mark":{"type":"rect","color":"#c99c82","stroke":"#900000"},"encoding":{"x":{"datum":-3.03},"x2":{"datum":-0.09},"y":{"datum":-61.4},"y2":{"datum":-72.35}}},
{"mark":{"type":"text","text":"m1","color":"#900000","fontSize":11,"font":"Noto Sans"},"encoding":{"x":{"datum":-2.5},"y":{"datum":-67}}},
{"mark":{"type":"text","text":"↑","color":"#900000","fontSize":16,"fontWeight":"bold","font":"DejaVu Sans"},"encoding":{"x":{"datum":-0.8},"y":{"datum":-66.5}}},
{"mark":{"type":"text","text":"r","color":"#a02010","fontSize":13,"font":"Noto Sans"},"encoding":{"x":{"datum":105.2},"y":{"datum":-149.4}}},
{"mark":{"type":"rect","color":"#ffffff"},"encoding":{"x":{"datum":-5.777},"x2":{"datum":-5.019},"y":{"datum":-60.61},"y2":{"datum":-152.94}}},
{"mark":{"type":"rect","color":"#000000"},"encoding":{"x":{"datum":-5.019},"x2":{"datum":-3.125},"y":{"datum":-60.61},"y2":{"datum":-152.94}}},
{"mark":{"type":"rect","color":"#ffffff"},"encoding":{"x":{"datum":105.587},"x2":{"datum":106.25},"y":{"datum":-60.61},"y2":{"datum":-152.94}}},
{"mark":{"type":"rect","color":"#222222"},"encoding":{"x":{"datum":-3.125},"x2":{"datum":105.587},"y":{"datum":-60.61},"y2":{"datum":-61}}}
]}
]}
